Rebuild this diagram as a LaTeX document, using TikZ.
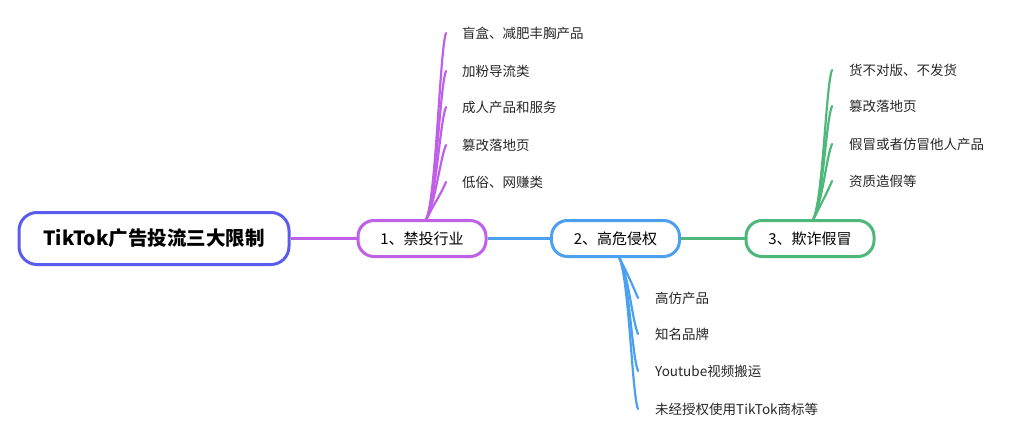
\documentclass[tikz,border=0pt]{standalone}
\usepackage{fontspec}
\setmainfont{Noto Sans CJK SC}
\begin{document}
\begin{tikzpicture}[x=1pt,y=-1pt,
 every node/.style={inner sep=0pt},
 topic/.style={draw, line width=3pt, rounded corners=18pt, minimum height=#1},
 leaf/.style={anchor=west, font=\fontsize{13.5}{15}\selectfont, text=black!85},
 br/.style={line width=2.2pt, line cap=round}]
\definecolor{cr}{RGB}{90,92,240}
\definecolor{c1}{RGB}{192,96,232}
\definecolor{c2}{RGB}{75,160,240}
\definecolor{c3}{RGB}{77,184,122}
\useasboundingbox (0,0) rectangle (1024,441);
\node[topic=52pt, draw=cr, minimum width=270pt, font=\fontsize{19.5}{22}\selectfont\bfseries] (r) at (154,238.5) {TikTok广告投流三大限制};
\node[topic=36pt, draw=c1, minimum width=128pt, font=\fontsize{15}{17}\selectfont, rounded corners=16pt] (n1) at (422,238.5) {1、禁投行业};
\node[topic=36pt, draw=c2, minimum width=128pt, font=\fontsize{15}{17}\selectfont, rounded corners=16pt] (n2) at (615.5,238.5) {2、高危侵权};
\node[topic=36pt, draw=c3, minimum width=128pt, font=\fontsize{15}{17}\selectfont, rounded corners=16pt] (n3) at (810,238.5) {3、欺诈假冒};
\draw[c1, line width=2.5pt] (r.east) -- (n1.west);
\draw[c2, line width=2.5pt] (n1.east) -- (n2.west);
\draw[c3, line width=2.5pt] (n2.east) -- (n3.west);
% branch 1
\foreach \y/\t [count=\i] in {33/盲盒、减肥丰胸产品,71/加粉导流类,107/成人产品和服务,145/篡改落地页,182/低俗、网赚类}{
 \node[leaf] (a\i) at (462,\y) {\t};
 \coordinate (ae\i) at (446,\y);
 \draw[br, c1] (426,220) .. controls (436,200) and (440,\y+14) .. (ae\i);
}
% branch 3
\foreach \y/\t [count=\i] in {70/货不对版、不发货,106/篡改落地页,144/假冒或者仿冒他人产品,181/资质造假等}{
 \node[leaf] (c\i) at (849,\y) {\t};
 \coordinate (ce\i) at (832,\y);
 \draw[br, c3] (813,220) .. controls (823,200) and (826,\y+14) .. (ce\i);
}
% branch 2
\foreach \y/\t [count=\i] in {298/高仿产品,334/知名品牌/人物/卡通形象,371/Youtube视频搬运,409/未经授权使用TikTok商标等}{
 \node[leaf] (b\i) at (655,\y) {\t};
 \coordinate (be\i) at (638,\y);
 \draw[br, c2] (619,257) .. controls (629,277) and (632,\y-14) .. (be\i);
}
\end{tikzpicture}
\end{document}
